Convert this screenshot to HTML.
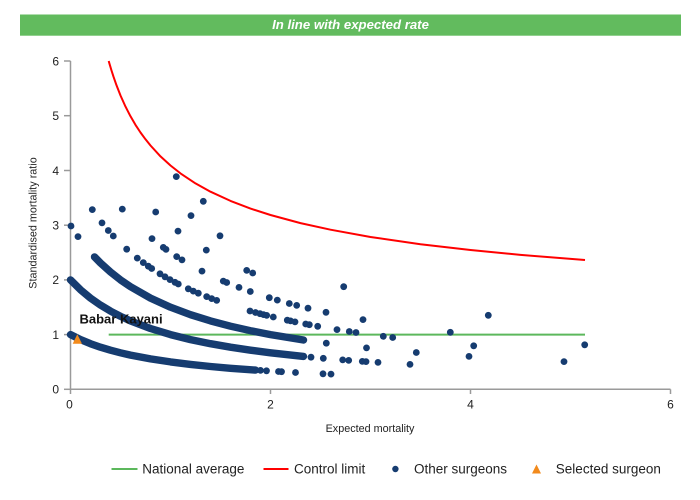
<!DOCTYPE html>
<html>
<head>
<meta charset="utf-8">
<style>
html,body{margin:0;padding:0;background:#fff;}
body{width:700px;height:500px;overflow:hidden;}
svg{display:block;}
text{font-family:"Liberation Sans",Arial,sans-serif;}
</style>
</head>
<body>
<svg width="700" height="500" viewBox="0 0 700 500" xmlns="http://www.w3.org/2000/svg">
<rect x="0" y="0" width="700" height="500" fill="#fff"/>
<!-- header -->
<rect x="20" y="14.5" width="661" height="21.2" fill="#62bb5e"/>
<text x="350.5" y="29" font-size="13.2" font-weight="bold" font-style="italic" fill="#fff" text-anchor="middle">In line with expected rate</text>

<!-- axes -->
<g stroke="#9a9a9a" stroke-width="1.5" fill="none">
<line x1="70.5" y1="61" x2="70.5" y2="389.3"/>
<line x1="70.5" y1="389.3" x2="670.5" y2="389.3"/>
<line x1="64" y1="61" x2="70.5" y2="61"/>
<line x1="64" y1="115.7" x2="70.5" y2="115.7"/>
<line x1="64" y1="170.5" x2="70.5" y2="170.5"/>
<line x1="64" y1="225.2" x2="70.5" y2="225.2"/>
<line x1="64" y1="279.9" x2="70.5" y2="279.9"/>
<line x1="64" y1="334.6" x2="70.5" y2="334.6"/>
<line x1="64" y1="389.3" x2="70.5" y2="389.3"/>
<line x1="70.5" y1="389.3" x2="70.5" y2="394"/>
<line x1="270.5" y1="389.3" x2="270.5" y2="394"/>
<line x1="470.5" y1="389.3" x2="470.5" y2="394"/>
<line x1="670.5" y1="389.3" x2="670.5" y2="394"/>
</g>
<g font-size="12" fill="#222" text-anchor="end">
<text x="59" y="65.3">6</text>
<text x="59" y="120">5</text>
<text x="59" y="174.8">4</text>
<text x="59" y="229.5">3</text>
<text x="59" y="284.2">2</text>
<text x="59" y="338.9">1</text>
<text x="59" y="393.6">0</text>
</g>
<g font-size="12" fill="#222" text-anchor="middle">
<text x="69.5" y="408.5">0</text>
<text x="270.5" y="408.5">2</text>
<text x="470.5" y="408.5">4</text>
<text x="670.5" y="408.5">6</text>
</g>
<text x="370" y="432" font-size="10.8" fill="#222" text-anchor="middle">Expected mortality</text>
<text transform="translate(36.5,223) rotate(-90)" font-size="10.8" fill="#222" text-anchor="middle">Standardised mortality ratio</text>

<!-- national average -->
<line x1="108.7" y1="334.6" x2="585" y2="334.6" stroke="#5cb85c" stroke-width="2"/>
<!-- control limit -->
<polyline fill="none" stroke="#ff0000" stroke-width="2" stroke-linejoin="round" points="108.7,61 109.5,63.8 111.5,70.5 113.5,76.7 116.5,85.3 120.5,95.5 125.5,106.6 130.5,116.3 135.5,124.9 140.5,132.5 145.5,139.3 150.5,145.5 160.5,156.4 170.5,165.5 180.5,173.4 195.5,183.4 210.5,191.7 230.5,200.9 250.5,208.6 270.5,215 300.5,223.1 330.5,229.7 370.5,237 420.5,244.2 470.5,250 520.5,254.9 585,260"/>

<!-- dense bands -->
<g fill="none" stroke="#163c70" stroke-width="7.4" stroke-linecap="round" stroke-linejoin="round">
<polyline points="70.5,334.6 80.5,339.6 90.5,343.7 100.5,347.2 110.5,350.2 120.5,352.8 130.5,355.1 150.5,358.9 170.5,361.9 190.5,364.4 210.5,366.5 230.5,368.3 255.5,370.1"/>
<polyline points="70.5,279.9 80.5,289.8 90.5,298.1 100.5,305.1 110.5,311.1 120.5,316.3 130.5,320.9 150.5,328.5 170.5,334.6 190.5,339.6 210.5,343.7 230.5,347.2 250.5,350.2 270.5,352.8 303.5,356.4"/>
<polyline points="94.5,256.9 100.5,263 110.5,272 120.5,279.9 130.5,286.7 150.5,298.1 170.5,307.2 190.5,314.7 210.5,320.9 230.5,326.2 250.5,330.7 270.5,334.6 303.5,340"/>
</g>

<!-- sparse dots -->
<g fill="#163c70">
<!-- k=1 extras -->
<circle cx="260.5" cy="370.4" r="3.4"/><circle cx="266.5" cy="370.8" r="3.4"/><circle cx="278.5" cy="371.5" r="3.4"/><circle cx="281.5" cy="371.7" r="3.4"/><circle cx="295.5" cy="372.5" r="3.4"/><circle cx="323" cy="373.8" r="3.4"/><circle cx="331" cy="374.1" r="3.4"/>
<!-- k=2 extras -->
<circle cx="311" cy="357.2" r="3.4"/><circle cx="323.3" cy="358.3" r="3.4"/><circle cx="342.7" cy="359.9" r="3.4"/><circle cx="348.7" cy="360.4" r="3.4"/><circle cx="362.3" cy="361.4" r="3.4"/><circle cx="366" cy="361.6" r="3.4"/><circle cx="378" cy="362.4" r="3.4"/><circle cx="410" cy="364.4" r="3.4"/>
<!-- k=3 extras -->
<circle cx="71" cy="226" r="3.4"/><circle cx="78" cy="236.6" r="3.4"/><circle cx="326.3" cy="343.2" r="3.4"/><circle cx="366.5" cy="347.9" r="3.4"/><circle cx="416.3" cy="352.5" r="3.4"/><circle cx="469" cy="356.4" r="3.4"/><circle cx="564" cy="361.6" r="3.4"/>
<!-- k=4 -->
<circle cx="92.3" cy="209.6" r="3.4"/><circle cx="102" cy="222.9" r="3.4"/><circle cx="108.3" cy="230.5" r="3.4"/><circle cx="113.3" cy="236" r="3.4"/><circle cx="126.7" cy="249.2" r="3.4"/><circle cx="137.3" cy="258.1" r="3.4"/><circle cx="143.3" cy="262.6" r="3.4"/><circle cx="148.3" cy="266.2" r="3.4"/><circle cx="151.7" cy="268.5" r="3.4"/><circle cx="160" cy="273.8" r="3.4"/><circle cx="165" cy="276.8" r="3.4"/><circle cx="170" cy="279.6" r="3.4"/><circle cx="175" cy="282.3" r="3.4"/><circle cx="178.3" cy="284" r="3.4"/><circle cx="188.3" cy="288.8" r="3.4"/><circle cx="193.3" cy="291.1" r="3.4"/><circle cx="198.3" cy="293.2" r="3.4"/><circle cx="206.7" cy="296.6" r="3.4"/><circle cx="211.7" cy="298.6" r="3.4"/><circle cx="216.7" cy="300.4" r="3.4"/><circle cx="250" cy="311" r="3.4"/><circle cx="255.5" cy="312.5" r="3.4"/><circle cx="260" cy="313.7" r="3.4"/><circle cx="263.5" cy="314.6" r="3.4"/><circle cx="266.7" cy="315.4" r="3.4"/><circle cx="273.3" cy="317" r="3.4"/><circle cx="287.3" cy="320.2" r="3.4"/><circle cx="290.5" cy="320.9" r="3.4"/><circle cx="295" cy="321.9" r="3.4"/><circle cx="305.7" cy="324" r="3.4"/><circle cx="309.3" cy="324.7" r="3.4"/><circle cx="317.7" cy="326.3" r="3.4"/><circle cx="337" cy="329.6" r="3.4"/><circle cx="349.3" cy="331.5" r="3.4"/><circle cx="356" cy="332.5" r="3.4"/><circle cx="383.3" cy="336.3" r="3.4"/><circle cx="392.7" cy="337.5" r="3.4"/><circle cx="473.7" cy="345.8" r="3.4"/>
<!-- k=5 -->
<circle cx="122.3" cy="209.1" r="3.4"/><circle cx="152" cy="238.6" r="3.4"/><circle cx="163.3" cy="247.4" r="3.4"/><circle cx="166" cy="249.4" r="3.4"/><circle cx="176.7" cy="256.6" r="3.4"/><circle cx="182" cy="259.9" r="3.4"/><circle cx="202" cy="271.1" r="3.4"/><circle cx="223.3" cy="281.1" r="3.4"/><circle cx="226.7" cy="282.5" r="3.4"/><circle cx="239" cy="287.4" r="3.4"/><circle cx="250.3" cy="291.5" r="3.4"/><circle cx="269.3" cy="297.7" r="3.4"/><circle cx="277.3" cy="300.1" r="3.4"/><circle cx="289.3" cy="303.5" r="3.4"/><circle cx="296.7" cy="305.4" r="3.4"/><circle cx="308" cy="308.2" r="3.4"/><circle cx="326" cy="312.3" r="3.4"/><circle cx="363" cy="319.6" r="3.4"/><circle cx="450.3" cy="332.3" r="3.4"/><circle cx="584.7" cy="344.8" r="3.4"/>
<!-- k=6 -->
<circle cx="155.7" cy="212" r="3.4"/><circle cx="178" cy="231.1" r="3.4"/><circle cx="206.3" cy="250.1" r="3.4"/><circle cx="246.7" cy="270.4" r="3.4"/><circle cx="252.7" cy="273" r="3.4"/>
<!-- k=7 -->
<circle cx="191" cy="215.6" r="3.4"/><circle cx="220" cy="235.8" r="3.4"/><circle cx="343.7" cy="286.7" r="3.4"/><circle cx="488.3" cy="315.3" r="3.4"/>
<!-- k=8 -->
<circle cx="176.3" cy="176.6" r="3.4"/><circle cx="203.3" cy="201.3" r="3.4"/>
</g>

<!-- selected surgeon -->
<polygon points="72.7,343.7 82,343.7 77.3,334.3" fill="#f28a1c"/>
<text x="79.5" y="323.5" font-size="13" font-weight="bold" fill="#111">Babar Kayani</text>

<!-- legend -->
<line x1="111.5" y1="469" x2="137.5" y2="469" stroke="#5cb85c" stroke-width="2"/>
<text x="142.3" y="473.5" font-size="13.5" fill="#222">National average</text>
<line x1="263.5" y1="469" x2="288.5" y2="469" stroke="#ff0000" stroke-width="2"/>
<text x="294" y="473.5" font-size="13.5" fill="#222">Control limit</text>
<circle cx="395.4" cy="469" r="3.2" fill="#163c70"/>
<text x="414" y="473.5" font-size="13.5" fill="#222">Other surgeons</text>
<polygon points="532,473.5 541,473.5 536.5,464.5" fill="#f28a1c"/>
<text x="555.8" y="473.5" font-size="13.5" fill="#222">Selected surgeon</text>
</svg>
</body>
</html>
